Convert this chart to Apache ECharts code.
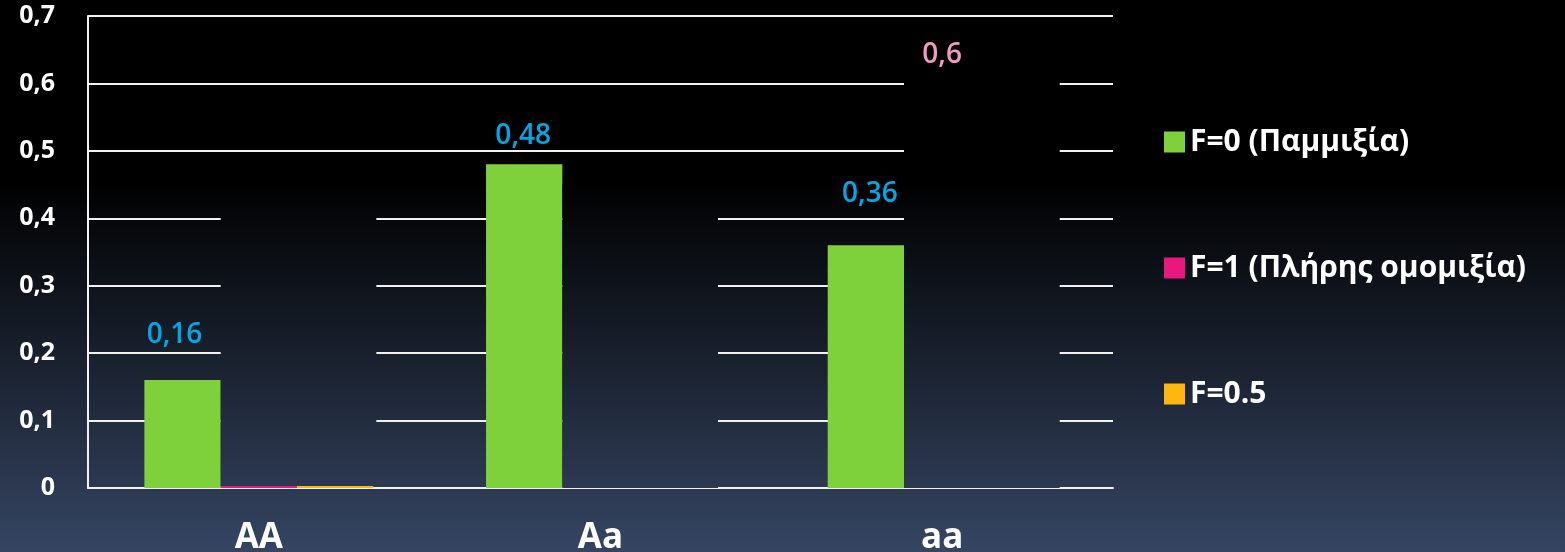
<!DOCTYPE html>
<html>
<head>
<meta charset="utf-8">
<script src="https://cdn.jsdelivr.net/npm/echarts@6/dist/echarts.min.js"></script>
<style>
  html, body { margin: 0; padding: 0; background: #000; }
  #chart { width: 1565px; height: 552px; }
</style>
</head>
<body>
<div id="chart"></div>
<script>
// Genotype frequencies under different inbreeding coefficients
const categories = ['AA', 'Aa', 'aa'];
const seriesNames = ['F=0 (Παμμιξία)', 'F=1 (Πλήρης ομομιξία)', 'F=0.5'];
const panmixia = [0.16, 0.48, 0.36];
const fullInbreeding = [0.003, 0, 0.6];
const halfInbreeding = [0.003, 0, 0];
// Panel that hides the not-yet-revealed bars of each genotype: [lower, upper] value
const veilSpan = [[0.003, 0.45], [0, 0.45], [0, 0.615]];
const yTickLabels = ['0', '0,1', '0,2', '0,3', '0,4', '0,5', '0,6', '0,7'];
const valueLabels = ['0,16', '0,48', '0,36'];
const fullLabel = '0,6';

const FONT = '"Open Sans", "Noto Sans", sans-serif';
const CAT_GAP = 0.33;

// Slide background; the veil uses the very same fill so it blends in
const backdrop = {
  type: 'linear', x: 0, y: 0, x2: 0, y2: 552, global: true,
  colorStops: [
    { offset: 0, color: '#000000' },
    { offset: 0.33, color: '#000000' },
    { offset: 1, color: '#354562' }
  ]
};

const chart = echarts.init(document.getElementById('chart'), null, { renderer: 'canvas' });

const greenLabelLayout = [
  { distance: 31, offset: [-8, 0] },
  { distance: 14, offset: [-1, 0] },
  { distance: 37, offset: [4, 0] }
];

const valueLabelStyle = { fontFamily: FONT, fontSize: 28, fontWeight: 600 };

chart.setOption({
  animation: false,
  backgroundColor: backdrop,
  grid: { left: 88, right: 452, top: 16, bottom: 64, outerBoundsMode: 'none' },
  legend: {
    data: seriesNames,
    orient: 'vertical',
    left: 1159,
    top: 122,
    icon: 'rect',
    itemWidth: 21,
    itemHeight: 21,
    itemGap: 96,
    textStyle: { color: '#ffffff', fontFamily: FONT, fontWeight: 'bold', fontSize: 30, lineHeight: 24 }
  },
  xAxis: {
    type: 'category',
    data: categories,
    axisLine: { show: true, lineStyle: { color: '#f2f2f2', width: 2 } },
    axisTick: { show: false },
    axisLabel: { color: '#ffffff', fontFamily: FONT, fontWeight: 'bold', fontSize: 35, margin: 33 },
    splitLine: { show: false }
  },
  yAxis: {
    type: 'value',
    min: 0,
    max: 0.7,
    interval: 0.1,
    axisLine: { show: true, lineStyle: { color: '#f2f2f2', width: 2 } },
    axisTick: { show: false },
    axisLabel: {
      color: '#ffffff', fontFamily: FONT, fontWeight: 'bold', fontSize: 25, margin: 33,
      formatter: v => yTickLabels[Math.round(v * 10)]
    },
    splitLine: { show: true, lineStyle: { color: '#f2f2f2', width: 2 } }
  },
  series: [
    {
      name: seriesNames[0],
      type: 'bar',
      z: 2,
      barGap: '0%',
      barCategoryGap: (CAT_GAP * 100) + '%',
      itemStyle: { color: '#7fd13b' },
      data: panmixia.map((v, i) => ({
        value: v,
        label: Object.assign({
          show: true, position: 'top',
          distance: greenLabelLayout[i].distance,
          offset: greenLabelLayout[i].offset,
          formatter: valueLabels[i],
          color: '#00a9e6'
        }, valueLabelStyle)
      }))
    },
    {
      name: seriesNames[1],
      type: 'bar',
      z: 2,
      barGap: '0%',
      barCategoryGap: (CAT_GAP * 100) + '%',
      itemStyle: { color: '#e8187c' },
      data: fullInbreeding.map((v, i) => (i === 2 ? {
        value: v,
        label: Object.assign({
          show: true, position: 'top', distance: 14,
          formatter: fullLabel,
          color: '#f49ac1'
        }, valueLabelStyle)
      } : v))
    },
    {
      name: seriesNames[2],
      type: 'bar',
      z: 2,
      barGap: '0%',
      barCategoryGap: (CAT_GAP * 100) + '%',
      itemStyle: { color: '#ffb70f' },
      data: halfInbreeding
    },
    {
      name: 'veil',
      type: 'custom',
      z: 3,
      silent: true,
      data: veilSpan.map((s, i) => [i, s[0], s[1]]),
      encode: { x: 0, y: [1, 2] },
      renderItem: (params, api) => {
        const i = api.value(0);
        const low = api.coord([i, api.value(1)]);
        const high = api.coord([i, api.value(2)]);
        const band = api.size([1, 0])[0];
        const barW = band * (1 - CAT_GAP) / 3;
        const x0 = low[0] - 0.5 * barW;
        return {
          type: 'rect',
          shape: { x: x0, y: high[1], width: 2.04 * barW, height: low[1] - high[1] },
          style: { fill: backdrop }
        };
      }
    }
  ]
});
</script>
</body>
</html>
